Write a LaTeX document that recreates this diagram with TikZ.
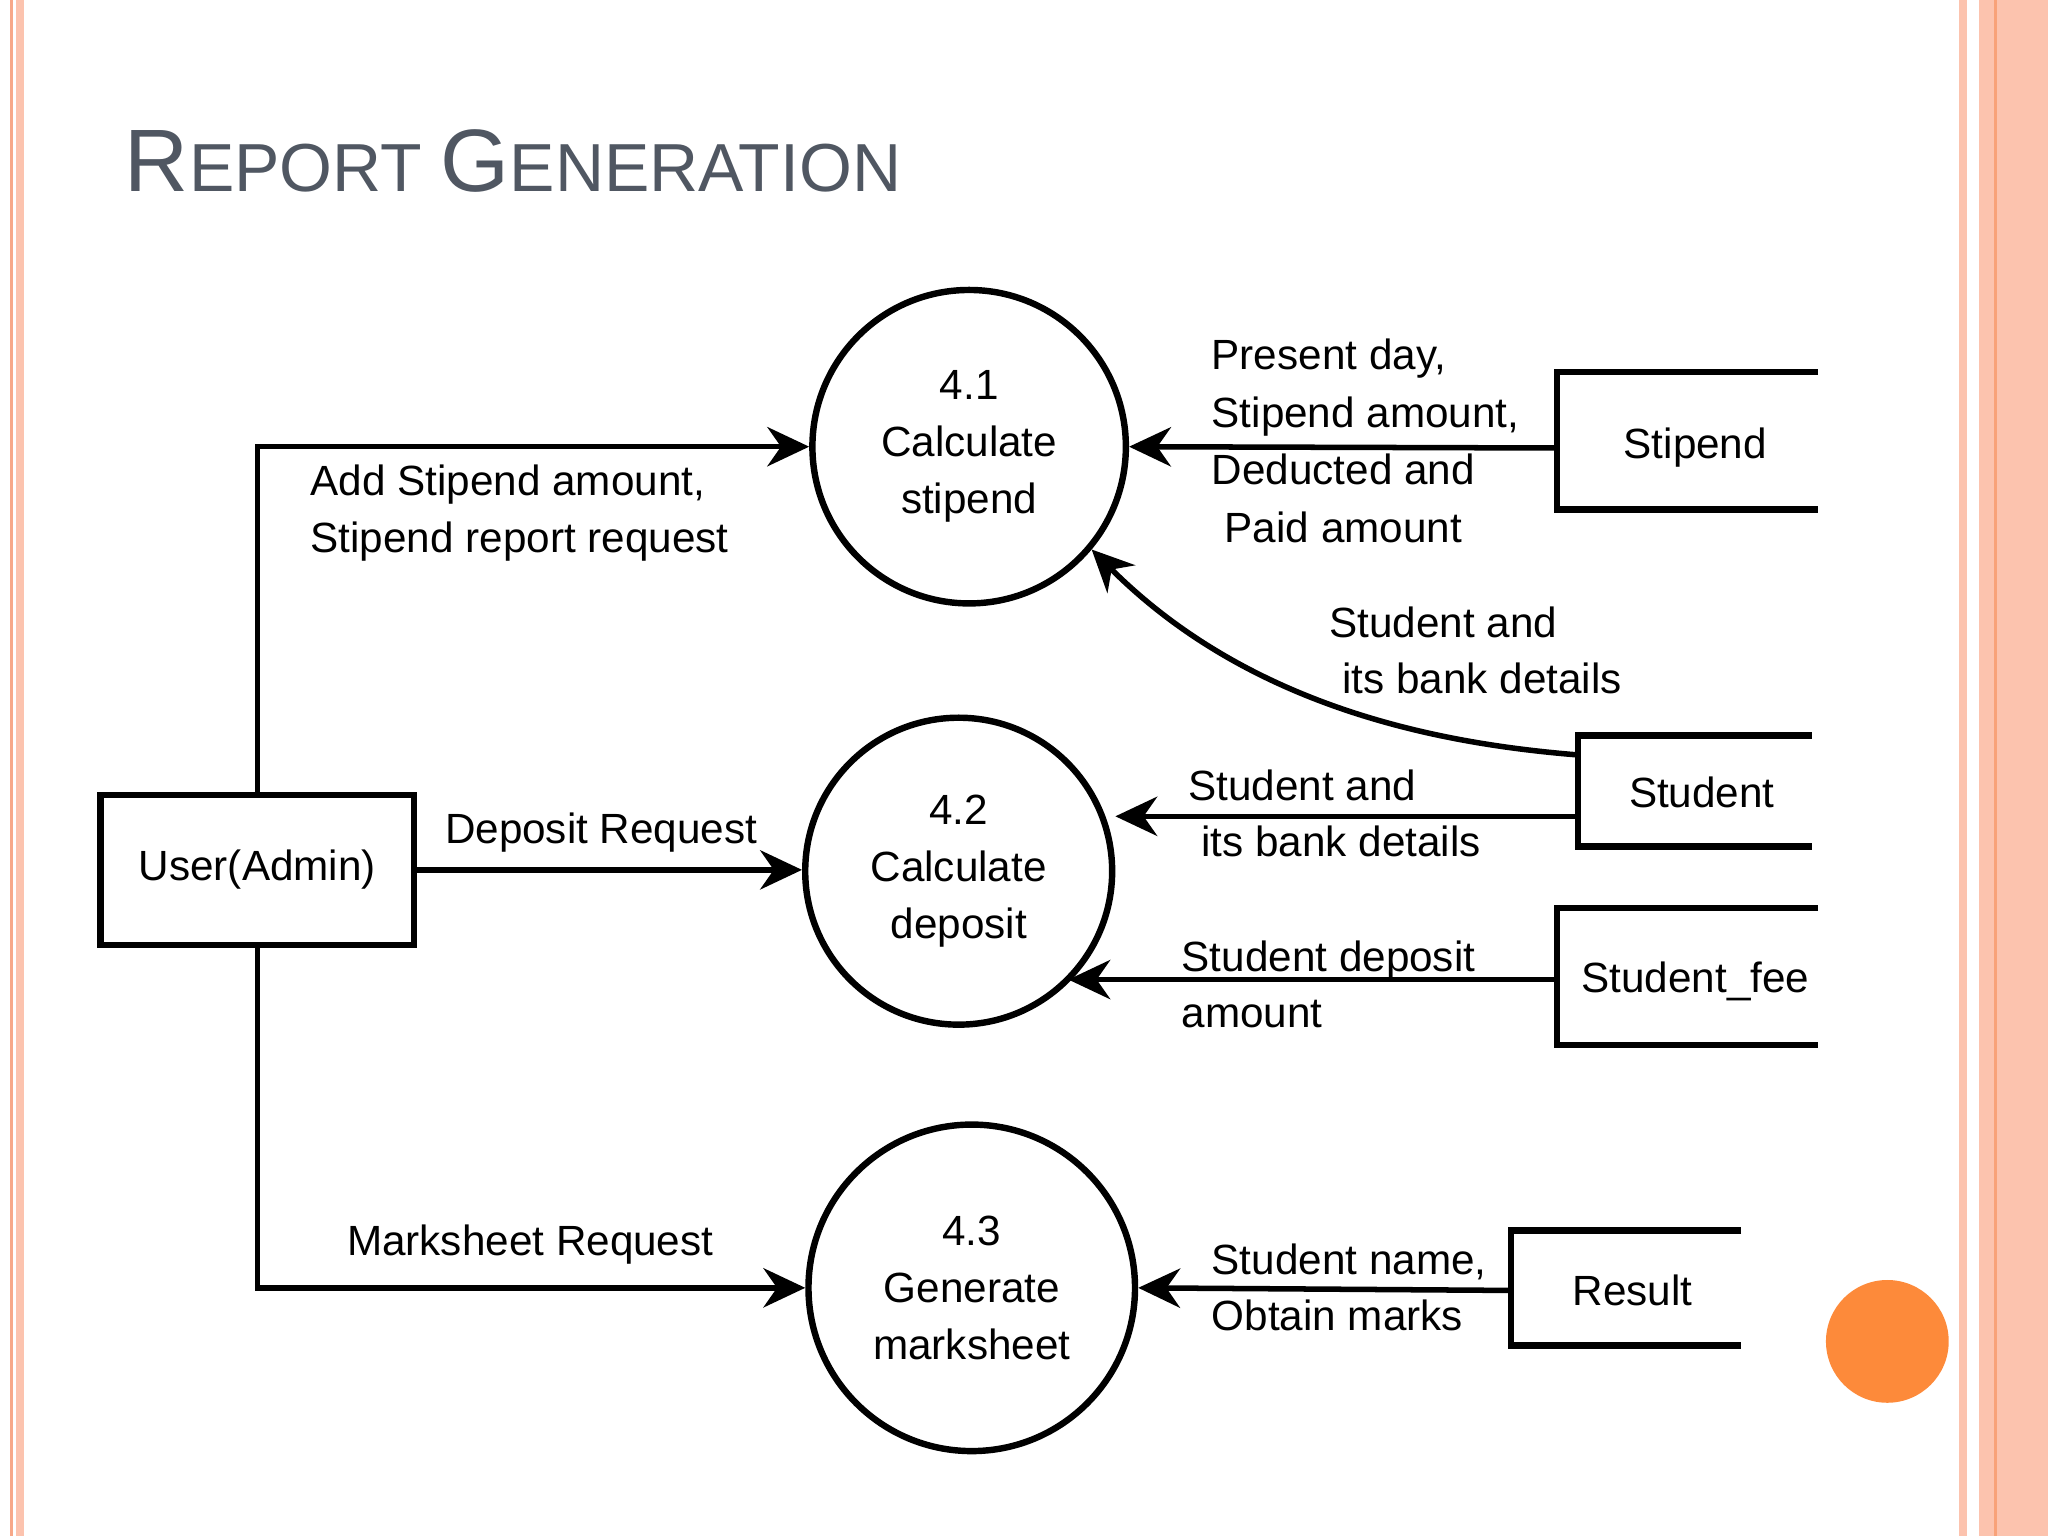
\documentclass[tikz,border=0pt]{standalone}
\usepackage{fontspec}
\setmainfont{Liberation Sans}
\usetikzlibrary{arrows.meta}
\definecolor{salmon}{HTML}{FCC3AE}
\definecolor{salmonline}{HTML}{F7A889}
\definecolor{accent}{HTML}{FD8A3A}
\definecolor{titlegray}{HTML}{505762}
\begin{document}
\begin{tikzpicture}[x=0.01cm,y=-0.01cm,
    proc/.style={circle,draw,line width=1.4pt,minimum size=240*0.01cm,align=center,
      font=\fontsize{9.2}{12.4}\selectfont,inner sep=0pt},
    ent/.style={draw,line width=1.4pt,minimum width=240*0.01cm,minimum height=115*0.01cm,
      font=\fontsize{9.2}{12}\selectfont},
    flow/.style={line width=1.2pt,-{Stealth[length=3.2mm,width=3mm]}},
    store/.style={line width=1.4pt},
    lbl/.style={anchor=base west,inner sep=0pt,font=\fontsize{9.2}{12}\selectfont},
    stxt/.style={font=\fontsize{9.2}{12}\selectfont}]
\useasboundingbox (0,0) rectangle (1568,1176);
% slide frame
\fill[salmonline] (8,0) rectangle (10,1176);
\fill[salmon] (12,0) rectangle (18,1176);
\fill[salmon] (1500,0) rectangle (1506,1176);
\fill[salmon] (1515,0) rectangle (1568,1176);
\fill[salmonline!80!accent] (1527,0) rectangle (1529,1176);
% title
\node[anchor=base west,inner sep=0pt,text=titlegray] (title) at (95,147)
  {\fontsize{19.3}{24}\selectfont R\fontsize{14.8}{20}\selectfont EPORT \fontsize{19.3}{24}\selectfont G\fontsize{14.8}{20}\selectfont ENERATION};
% processes
\node[proc] (p1) at (742,342) {4.1\\Calculate\\stipend};
\node[proc,minimum size=235*0.01cm] (p2) at (734,667) {4.2\\Calculate\\deposit};
\node[proc,minimum size=250*0.01cm] (p3) at (744,986) {4.3\\Generate\\marksheet};
% external entity
\node[ent] (user) at (197,666) {User(Admin)};
% data stores (open on the right)
\draw[store] (1392,285) -- (1192,285) -- (1192,390) -- (1392,390);
\node[stxt] (stipend) at (1298,343) {Stipend};
\draw[store] (1387,563) -- (1208,563) -- (1208,648) -- (1387,648);
\node[stxt] (student) at (1303,607) {Student};
\draw[store] (1392,695) -- (1192,695) -- (1192,800) -- (1392,800);
\node[stxt] (fee) at (1298,751) {Student\_fee};
\draw[store] (1333,942) -- (1157,942) -- (1157,1030) -- (1333,1030);
\node[stxt] (result) at (1250,988) {Result};
\coordinate (sst) at (1192,343);
\coordinate (stu) at (1208,625);
\coordinate (stuc) at (1208,578);
\coordinate (sfe) at (1192,750);
\coordinate (p2fee) at (818,750);
\coordinate (res) at (1157,988);
% flows
\draw[flow] (user.north) |- (p1.west);
\draw[flow] (user.east) -- (p2.west |- user.east);
\draw[flow] (user.south) |- (p3.west);
\draw[flow] (sst) -- (p1.east);
\draw[flow] (stu) -- (p2.east |- stu);
\draw[flow] (sfe) -- (p2fee);
\draw[flow] (res) -- (p3.east);
\draw[flow] (stuc) .. controls (1110,570) and (960,545) .. (p1.-40);
% flow labels
\node[lbl] (l1a) at (237,379) {Add Stipend amount,};
\node[lbl] (l1b) at (237,423) {Stipend report request};
\node[lbl] (l2a) at (927,283) {Present day,};
\node[lbl] (l2b) at (927,327) {Stipend amount,};
\node[lbl] (l2c) at (927,371) {Deducted and};
\node[lbl] (l2d) at (937,415) {Paid amount};
\node[lbl] (l3a) at (1017,488) {Student and};
\node[lbl] (l3b) at (1027,531) {its bank details};
\node[lbl] (l4a) at (909,613) {Student and};
\node[lbl] (l4b) at (919,656) {its bank details};
\node[lbl] (l5) at (340,646) {Deposit Request};
\node[lbl] (l6a) at (904,744) {Student deposit};
\node[lbl] (l6b) at (904,787) {amount};
\node[lbl] (l7) at (265,961) {Marksheet Request};
\node[lbl] (l8a) at (927,976) {Student name,};
\node[lbl] (l8b) at (927,1019) {Obtain marks};
% decoration
\fill[accent] (1445,1027) circle (47);
\end{tikzpicture}
\end{document}
